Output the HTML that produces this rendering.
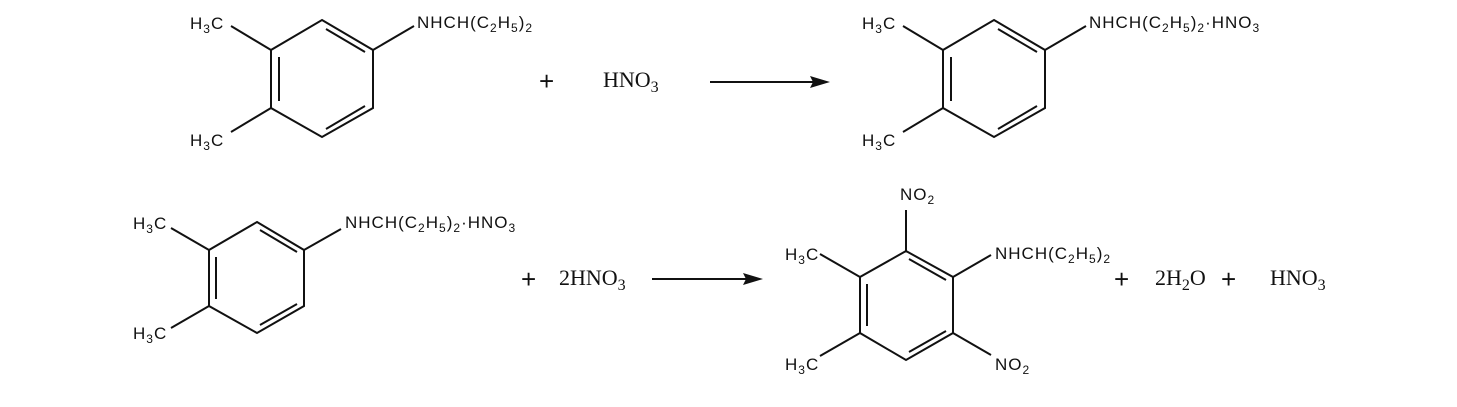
<!DOCTYPE html>
<html><head><meta charset="utf-8"><style>
html,body{margin:0;padding:0;background:#fff;}
svg{display:block;}
.s{font-family:"Liberation Sans",sans-serif;font-size:17px;letter-spacing:1px;fill:#111;}
.r{font-family:"Liberation Serif",serif;font-size:22px;fill:#111;}
.p{font-family:"Liberation Sans",sans-serif;font-size:26px;fill:#111;}
line,polyline,polygon{stroke:#111;stroke-width:2;fill:none;}
</style></head><body>
<svg width="1457" height="407" viewBox="0 0 1457 407" xmlns="http://www.w3.org/2000/svg">
<!-- Ring 1 -->
<g id="r1">
<polygon points="322,20 373,50 373,108 322,137 271,108 271,50"/>
<line x1="279" y1="57" x2="279" y2="101"/>
<line x1="326" y1="29" x2="365" y2="52"/>
<line x1="365" y1="106" x2="326" y2="129"/>
<line x1="271" y1="50" x2="231" y2="26"/>
<line x1="271" y1="108" x2="231" y2="132"/>
<line x1="373" y1="50" x2="414" y2="26"/>
</g>
<text class="s" x="190" y="29">H<tspan font-size="12" dy="4">3</tspan><tspan dy="-4">C</tspan></text>
<text class="s" x="190" y="146">H<tspan font-size="12" dy="4">3</tspan><tspan dy="-4">C</tspan></text>
<text class="s" x="417" y="28">NHCH(C<tspan font-size="12" dy="4">2</tspan><tspan dy="-4">H</tspan><tspan font-size="12" dy="4">5</tspan><tspan dy="-4">)</tspan><tspan font-size="12" dy="4">2</tspan></text>

<text class="p" x="539" y="90">+</text>
<text class="r" x="603" y="87">HNO<tspan font-size="16" dy="5">3</tspan></text>
<line x1="710" y1="82" x2="815" y2="82"/>
<polygon points="830,82 810,76 813,82 810,88" style="fill:#111;stroke:none"/>

<!-- Ring 2 -->
<use href="#r1" x="672" y="0"/>
<text class="s" x="862" y="29">H<tspan font-size="12" dy="4">3</tspan><tspan dy="-4">C</tspan></text>
<text class="s" x="862" y="146">H<tspan font-size="12" dy="4">3</tspan><tspan dy="-4">C</tspan></text>
<text class="s" x="1089" y="28">NHCH(C<tspan font-size="12" dy="4">2</tspan><tspan dy="-4">H</tspan><tspan font-size="12" dy="4">5</tspan><tspan dy="-4">)</tspan><tspan font-size="12" dy="4">2</tspan><tspan dy="-4">·HNO</tspan><tspan font-size="12" dy="4">3</tspan></text>

<!-- Ring 3 -->
<polygon points="257,222 304,250 304,306 257,333 209,306 209,250"/>
<line x1="216" y1="257" x2="216" y2="299"/>
<line x1="260" y1="230" x2="297" y2="252"/>
<line x1="297" y1="304" x2="260" y2="325"/>
<line x1="209" y1="250" x2="171" y2="228"/>
<line x1="209" y1="306" x2="171" y2="328"/>
<line x1="304" y1="250" x2="341" y2="229"/>
<text class="s" x="133" y="229">H<tspan font-size="12" dy="4">3</tspan><tspan dy="-4">C</tspan></text>
<text class="s" x="133" y="339">H<tspan font-size="12" dy="4">3</tspan><tspan dy="-4">C</tspan></text>
<text class="s" x="345" y="228">NHCH(C<tspan font-size="12" dy="4">2</tspan><tspan dy="-4">H</tspan><tspan font-size="12" dy="4">5</tspan><tspan dy="-4">)</tspan><tspan font-size="12" dy="4">2</tspan><tspan dy="-4">·HNO</tspan><tspan font-size="12" dy="4">3</tspan></text>

<text class="p" x="521" y="288">+</text>
<text class="r" x="559" y="285">2HNO<tspan font-size="16" dy="5">3</tspan></text>
<line x1="652" y1="279" x2="748" y2="279"/>
<polygon points="763,279 743,273 746,279 743,285" style="fill:#111;stroke:none"/>

<!-- Ring 4 -->
<polygon points="906,251 953,277 953,333 906,360 860,333 860,277"/>
<line x1="867" y1="284" x2="867" y2="326"/>
<line x1="909" y1="259" x2="946" y2="280"/>
<line x1="946" y1="331" x2="909" y2="352"/>
<line x1="906" y1="251" x2="906" y2="210"/>
<line x1="953" y1="277" x2="991" y2="255"/>
<line x1="953" y1="333" x2="991" y2="355"/>
<line x1="860" y1="277" x2="820" y2="254"/>
<line x1="860" y1="333" x2="820" y2="356"/>
<text class="s" x="900" y="200">NO<tspan font-size="12" dy="4">2</tspan></text>
<text class="s" x="785" y="260">H<tspan font-size="12" dy="4">3</tspan><tspan dy="-4">C</tspan></text>
<text class="s" x="785" y="370">H<tspan font-size="12" dy="4">3</tspan><tspan dy="-4">C</tspan></text>
<text class="s" x="995" y="259">NHCH(C<tspan font-size="12" dy="4">2</tspan><tspan dy="-4">H</tspan><tspan font-size="12" dy="4">5</tspan><tspan dy="-4">)</tspan><tspan font-size="12" dy="4">2</tspan></text>
<text class="s" x="995" y="370">NO<tspan font-size="12" dy="4">2</tspan></text>

<text class="p" x="1114" y="288">+</text>
<text class="r" x="1155" y="285">2H<tspan font-size="16" dy="5">2</tspan><tspan dy="-5">O</tspan></text>
<text class="p" x="1221" y="288">+</text>
<text class="r" x="1270" y="285">HNO<tspan font-size="16" dy="5">3</tspan></text>
</svg>
</body></html>
